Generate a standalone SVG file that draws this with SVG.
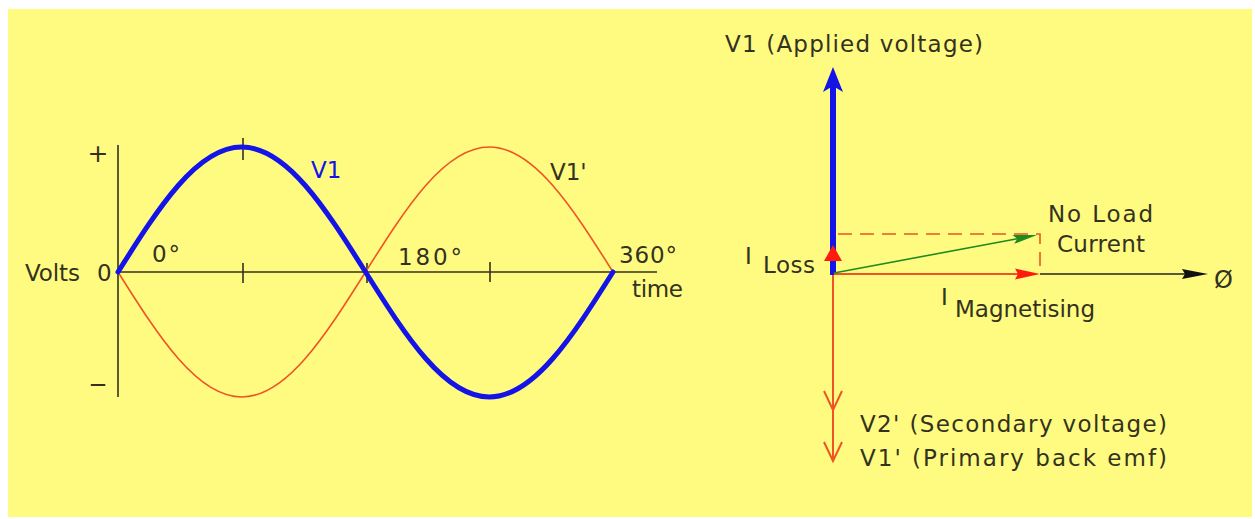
<svg xmlns="http://www.w3.org/2000/svg" width="1255" height="519" viewBox="0 0 1255 519">
  <style>
    .t { font-family: "DejaVu Sans", "Liberation Sans", sans-serif; font-size: 23px; fill: #33321f; }
    .axis { stroke: #33321f; stroke-width: 1.6; fill: none; }
    .v1 { stroke: #1414e6; stroke-width: 5; fill: none; stroke-linejoin: round; stroke-linecap: round; }
    .v1b { stroke: #ee5424; stroke-width: 1.6; fill: none; }
    .red { stroke: #ee5424; stroke-width: 2; fill: none; }
    .dash { stroke: #ee5424; stroke-width: 1.6; fill: none; stroke-dasharray: 14 8; }
    .green { stroke: #1f8a1f; stroke-width: 1.6; fill: none; }
    .black { stroke: #222; stroke-width: 1.6; fill: none; }
    .blue { stroke: #1414e6; stroke-width: 6; fill: none; }
  </style>
  <defs>
    <marker id="ahBlue" viewBox="-8 -12 30 24" refX="0" refY="0" markerWidth="30" markerHeight="24" markerUnits="userSpaceOnUse" orient="auto">
      <path d="M19,0 L-6,-10 L0,0 L-6,10 Z" fill="#1414e6"/>
    </marker>
    <marker id="ahRed" viewBox="-6 -8 30 16" refX="0" refY="0" markerWidth="30" markerHeight="16" markerUnits="userSpaceOnUse" orient="auto">
      <path d="M22,0 L-3,-5.5 L0,0 L-3,5.5 Z" fill="#ff1a10"/>
    </marker>
    <marker id="ahLoss" viewBox="-6 -10 24 20" refX="0" refY="0" markerWidth="24" markerHeight="20" markerUnits="userSpaceOnUse" orient="auto">
      <path d="M15,0 L-1,-9 L-1,9 Z" fill="#ff1a10"/>
    </marker>
    <marker id="ahBlack" viewBox="-6 -8 32 16" refX="0" refY="0" markerWidth="32" markerHeight="16" markerUnits="userSpaceOnUse" orient="auto">
      <path d="M23,0 L-3,-5 L0,0 L-3,5 Z" fill="#111"/>
    </marker>
    <marker id="ahGreen" viewBox="-6 -7 28 14" refX="0" refY="0" markerWidth="28" markerHeight="14" markerUnits="userSpaceOnUse" orient="auto">
      <path d="M20,0 L-4,-4.5 L0,0 L-4,4.5 Z" fill="#1f8a1f"/>
    </marker>
    <marker id="ahOpen" viewBox="-22 -11 24 22" refX="0" refY="0" markerWidth="24" markerHeight="22" markerUnits="userSpaceOnUse" orient="auto">
      <path d="M-19,-9 L0,0 L-19,9" fill="none" stroke="#ee5424" stroke-width="2"/>
    </marker>
  </defs>

  <rect x="0" y="0" width="1255" height="519" fill="#ffffff"/>
  <rect x="8" y="9" width="1244" height="508" fill="#fffb80"/>

  <g id="waveform">
    <g id="axes">
      <line class="axis" x1="118" y1="145" x2="118" y2="397"/>
      <line class="axis" x1="118" y1="272" x2="657" y2="272"/>
      <line class="axis" x1="243" y1="138" x2="243" y2="160"/>
      <line class="axis" x1="243" y1="263" x2="243" y2="283"/>
      <line class="axis" x1="367" y1="263" x2="367" y2="283"/>
      <line class="axis" x1="490" y1="262" x2="490" y2="282"/>
    </g>
    <path id="curve-v1prime" class="v1b" d="M118,272 C158.36,336.04 196.96,397 241.75,397 C286.54,397 325.14,336.04 365.5,272 C405.86,207.96 444.46,147 489.25,147 C534.04,147 572.64,207.96 613,272"/>
    <path id="curve-v1" class="v1" d="M118,272 C158.36,207.96 196.96,147 241.75,147 C286.54,147 325.14,207.96 365.5,272 C405.86,336.04 444.46,397 489.25,397 C534.04,397 572.64,336.04 613,272"/>
    <g id="waveform-labels">
      <text class="t" x="98" y="162" text-anchor="middle" style="font-size:25px">+</text>
      <text class="t" x="98" y="392" text-anchor="middle">−</text>
      <text class="t" y="281"><tspan x="25" textLength="55" lengthAdjust="spacing">Volts</tspan><tspan x="97">0</tspan></text>
      <text class="t" x="152" y="262" textLength="28" lengthAdjust="spacing">0°</text>
      <text class="t" x="311" y="178" style="fill:#1414e6">V1</text>
      <text class="t" x="550" y="180">V1'</text>
      <text class="t" x="398" y="265" textLength="64" lengthAdjust="spacing">180°</text>
      <text class="t" x="619" y="263" textLength="58" lengthAdjust="spacing">360°</text>
      <text class="t" x="632" y="297" textLength="51" lengthAdjust="spacing">time</text>
    </g>
  </g>

  <g id="phasor">
    <g id="connectors">
      <path id="v1-prime" class="red" d="M833,274 L833,461" marker-end="url(#ahOpen)"/>
      <path id="v2-prime" class="red" d="M833,274 L833,410" marker-end="url(#ahOpen)"/>
      <path id="v1-applied" class="blue" d="M833,275 L833,86" marker-end="url(#ahBlue)"/>
      <path id="i-loss" fill="none" stroke="none" d="M833,262 L833,260" marker-end="url(#ahLoss)"/>
      <path id="i-mag-dash" class="dash" d="M838,234 L1040,234 L1040,274"/>
      <path id="i-magnetising" class="red" d="M834,274 L1018,274" marker-end="url(#ahRed)"/>
      <path id="ref-axis" class="black" d="M1040,274 L1185,274" marker-end="url(#ahBlack)"/>
      <path id="no-load-current" class="green" d="M834,273 L1017.3,238.7" marker-end="url(#ahGreen)"/>
    </g>
    <g id="phasor-labels">
      <text class="t" x="725" y="52" textLength="258" lengthAdjust="spacing">V1 (Applied voltage)</text>
      <text class="t" y="264"><tspan x="745">I</tspan><tspan x="763" y="273" textLength="52" lengthAdjust="spacing">Loss</tspan></text>
      <text class="t" x="1048" y="222" textLength="105" lengthAdjust="spacing">No Load</text>
      <text class="t" x="1057" y="252" textLength="88" lengthAdjust="spacing">Current</text>
      <text class="t" x="1214" y="288" style="font-size:24px">Ø</text>
      <text class="t" y="305"><tspan x="941">I</tspan><tspan x="955" y="317" textLength="140" lengthAdjust="spacing">Magnetising</tspan></text>
      <text class="t" x="860" y="432" textLength="307" lengthAdjust="spacing">V2' (Secondary voltage)</text>
      <text class="t" x="860" y="466" textLength="307" lengthAdjust="spacing">V1' (Primary back emf)</text>
    </g>
  </g>
</svg>
